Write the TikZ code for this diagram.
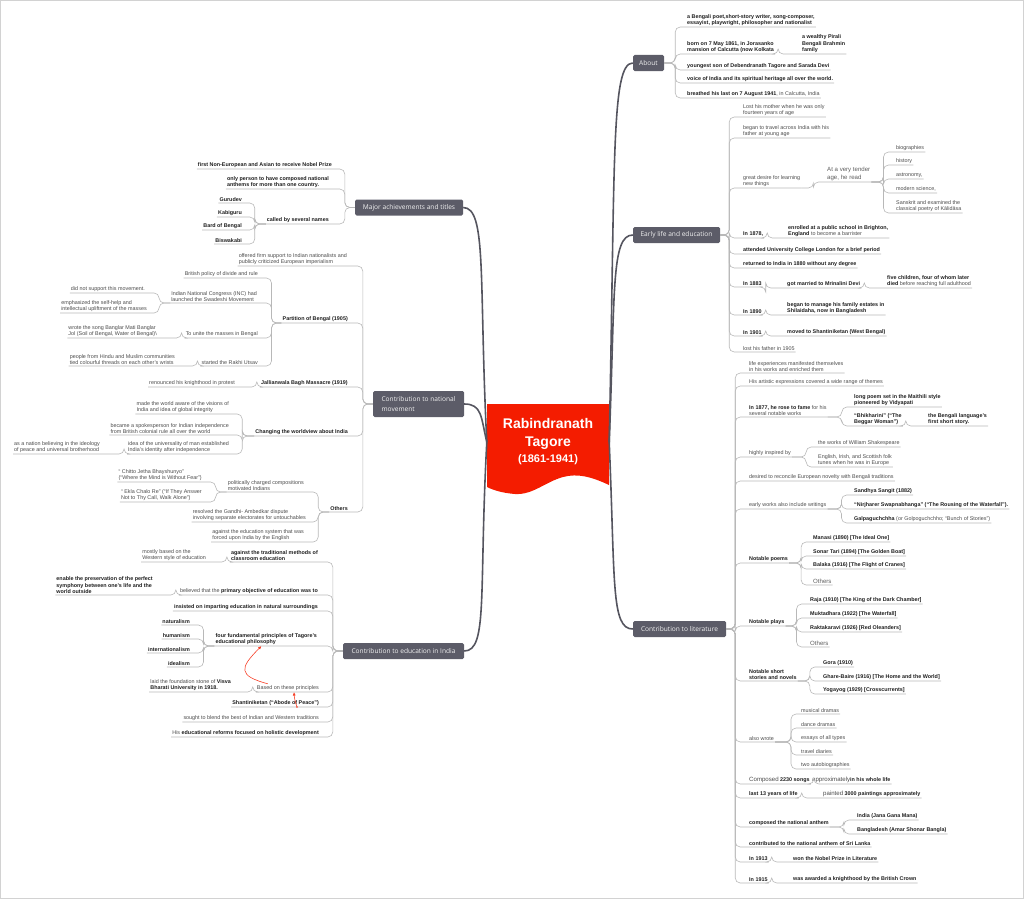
\documentclass[tikz,border=0pt]{standalone}
\usepackage{fontspec}
\setmainfont{Liberation Sans}
\newfontfamily\boxfont{Open Sans}
\usetikzlibrary{arrows.meta}
\definecolor{boxgray}{HTML}{5C5C68}
\definecolor{trunkgray}{HTML}{55555F}
\definecolor{linkgray}{HTML}{B8B8B8}
\definecolor{ink}{HTML}{1E1E1E}
\definecolor{txtgray}{HTML}{4A4A4A}
\definecolor{rootred}{HTML}{F41C00}
\def\fs{\fontsize{5.4}{6.2}\selectfont}
\def\fl{\fontsize{6.1}{8}\selectfont}
\def\bb#1{{\bfseries\color{ink}#1}}
\tikzset{
  lf/.style={font=\fs, text=txtgray, inner xsep=1pt, inner ysep=1.4pt, align=left},
  lg/.style={lf, font=\fl, text=txtgray!90},
  bl/.style={lf, font=\fs\bfseries, text=ink},
  rs/.style={anchor=south west},
  ls/.style={anchor=south east},
  box/.style={fill=boxgray, rounded corners=1.5pt, text=white!94!black,
    font=\boxfont\fontsize{6.6}{10}\selectfont, minimum height=16pt, inner xsep=4pt, align=left},
  link/.style={draw=linkgray, line width=0.6pt, rounded corners=5pt},
  trunk/.style={draw=trunkgray, line width=1.6pt},
  redarr/.style={draw=rootred!85, line width=0.6pt, -{LaTeX[length=3.5pt,width=3pt]}}
}
\begin{document}
\begin{tikzpicture}[x=1pt,y=-1pt]
\useasboundingbox (0,0) rectangle (1024,899);
\draw[gray!35, line width=0.8pt] (0.5,0.5) rectangle (1023.5,898.5);

% root
\fill[rootred] (487,404) -- (609,404) -- (609,485) .. controls (592,477) and (578,473) .. (563,477)
  .. controls (545,482) and (533,495) .. (515,494) .. controls (502,493) and (493,490) .. (487,487) -- cycle;
\node[minimum width=122pt, minimum height=80pt, text=white, align=center,
  font=\bfseries\fontsize{14}{18}\selectfont] (root) at (548,442)
  {Rabindranath\\Tagore\\[-2pt]{\fontsize{11}{12}\selectfont (1861-1941)}};

% main branches
\node[box, minimum width=31pt] (ab) at (648.5,63) {About};
\node[box, minimum width=87pt] (el) at (676.5,235) {Early life and education};
\node[box, minimum width=93pt] (lt) at (679.5,629) {Contribution to literature};
\node[box, minimum width=108pt] (ma) at (409,207.5) {Major achievements and titles};
\node[box, minimum width=91pt, minimum height=26pt] (nm) at (418.5,404) {Contribution to national\\movement};
\node[box, minimum width=121pt] (ed) at (403.5,651) {Contribution to education in India};

\draw[trunk] (root.west) .. controls +(-8,-160) and +(24,0) .. (ma.east);
\draw[trunk] (root.west) .. controls +(-6,-25) and +(18,0) .. (nm.east);
\draw[trunk] (root.west) .. controls +(-8,150) and +(24,0) .. (ed.east);
\draw[trunk] (root.east) .. controls +(6,-280) and +(-22,0) .. (ab.west);
\draw[trunk] (root.east) .. controls +(6,-150) and +(-22,0) .. (el.west);
\draw[trunk] (root.east) .. controls +(6,140) and +(-22,0) .. (lt.west);

% About
\node[bl,rs] (ab1) at (686,27) {a Bengali poet,short-story writer, song-composer,\\essayist, playwright, philosopher and nationalist};
\node[bl,rs] (ab2) at (686,54) {born on 7 May 1861, in Jorasanko\\mansion of Calcutta (now Kolkata};
\node[bl,rs] (ab2a) at (801,54) {a wealthy Pirali\\Bengali Brahmin\\family};
\node[bl,rs] (ab3) at (686,70) {youngest son of Debendranath Tagore and Sarada Devi};
\node[bl,rs] (ab4) at (686,83) {voice of India and its spiritual heritage all over the world.};
\node[lf,rs] (ab5) at (686,98) {\bb{breathed his last on 7 August 1941}, in Calcutta, India};
\foreach \k in {ab1,ab2,ab3,ab4,ab5} \draw[link] (ab.east) -- ++(11,0) |- (\k.south east);
\draw[link] (ab2.south east) -- ++(3,0) |- (ab2a.south east);

% Early life and education
\node[lf,rs] (el1) at (742,117) {Lost his mother when he was only\\fourteen years of age};
\node[lf,rs] (el2) at (742,138) {began to travel across India with his\\father at young age};
\node[lf,rs] (el3) at (742,188) {great desire for learning\\new things};
\node[lg,rs] (el3a) at (826,182) {At a very tender\\age, he read};
\node[lf,rs] (el3a1) at (895,152) {biographies};
\node[lf,rs] (el3a2) at (895,165) {history};
\node[lf,rs] (el3a3) at (895,179) {astronomy,};
\node[lf,rs] (el3a4) at (895,193) {modern science,};
\node[lf,rs] (el3a5) at (895,213) {Sanskrit and examined the\\classical poetry of Kālidāsa};
\node[bl,rs] (el4) at (742,238) {In 1878,};
\node[lf,rs] (el4a) at (787,238) {\bb{enrolled at a public school in Brighton,}\\\bb{England} to become a barrister};
\node[bl,rs] (el5) at (742,254) {attended University College London for a brief period};
\node[bl,rs] (el6) at (742,268) {returned to India in 1880 without any degree};
\node[bl,rs] (el7) at (742,287) {In 1883};
\node[bl,rs] (el7a) at (786,288) {got married to Mrinalini Devi};
\node[lf,rs] (el7b) at (886,288) {\bb{five children, four of whom later}\\\bb{died} before reaching full adulthood};
\node[bl,rs] (el8) at (742,315) {In 1890};
\node[bl,rs] (el8a) at (786,315) {began to manage his family estates in\\Shilaidaha, now in Bangladesh};
\node[bl,rs] (el9) at (742,336) {In 1901};
\node[bl,rs] (el9a) at (786,336) {moved to Shantiniketan (West Bengal)};
\node[lf,rs] (el10) at (742,352) {lost his father in 1905};
\foreach \k in {el1,el2,el3,el4,el5,el6,el7,el8,el9,el10} \draw[link] (el.east) -- ++(9,0) |- (\k.south east);
\draw[link] (el3.south east) -- ++(12,0) |- (el3a.south east);
\foreach \k in {el3a1,el3a2,el3a3,el3a4,el3a5} \draw[link] (el3a.south east) -- ++(12,0) |- (\k.south east);
\foreach \p/\k in {el4/el4a, el7/el7a, el7a/el7b, el8/el8a, el9/el9a} \draw[link] (\p.south east) -- ++(3,0) |- (\k.south east);

% Contribution to literature
\node[lf,rs] (lt1) at (748,373) {life experiences manifested themselves\\in his works and enriched them};
\node[lf,rs] (lt2) at (748,386) {His artistic expressions covered a wide range of themes};
\node[lf,rs] (lt3) at (748,417) {\bb{In 1877, he rose to fame} for his\\several notable works};
\node[bl,rs] (lt3a) at (853,407) {long poem set in the Maithili style\\pioneered by Vidyapati};
\node[bl,rs] (lt3b) at (853,426) {“Bhikharini” (“The\\Beggar Woman”)};
\node[bl,rs] (lt3b1) at (927,426) {the Bengali language’s\\first short story.};
\node[lf,rs] (lt4) at (748,457) {highly inspired by};
\node[lf,rs] (lt4a) at (817,447) {the works of William Shakespeare};
\node[lf,rs] (lt4b) at (817,467) {English, Irish, and Scottish folk\\tunes when he was in Europe};
\node[lf,rs] (lt5) at (748,481) {desired to reconcile European novelty with Bengali traditions};
\node[lf,rs] (lt6) at (748,509) {early works also include writings};
\node[bl,rs] (lt6a) at (853,495) {Sandhya Sangit (1882)};
\node[bl,rs] (lt6b) at (853,509) {“Nirjharer Swapnabhanga” (“The Rousing of the Waterfall”).};
\node[lf,rs] (lt6c) at (853,523) {\bb{Galpaguchchha} (or Golpoguchchho; “Bunch of Stories”)};
\node[bl,rs] (lt7) at (748,563) {Notable poems};
\node[bl,rs] (lt7a) at (812,542) {Manasi (1890) [The Ideal One]};
\node[bl,rs] (lt7b) at (812,556) {Sonar Tari (1894) [The Golden Boat]};
\node[bl,rs] (lt7c) at (812,569) {Balaka (1916) [The Flight of Cranes]};
\node[lg,rs] (lt7d) at (812,585) {Others};
\node[bl,rs] (lt8) at (748,626) {Notable plays};
\node[bl,rs] (lt8a) at (809,604) {Raja (1910) [The King of the Dark Chamber]};
\node[bl,rs] (lt8b) at (809,618) {Muktadhara (1922) [The Waterfall]};
\node[bl,rs] (lt8c) at (809,632) {Raktakaravi (1926) [Red Oleanders]};
\node[lg,rs] (lt8d) at (809,647) {Others};
\node[bl,rs] (lt9) at (748,681) {Notable short\\stories and novels};
\node[bl,rs] (lt9a) at (822,667) {Gora (1910)};
\node[bl,rs] (lt9b) at (822,681) {Ghare-Baire (1916) [The Home and the World]};
\node[bl,rs] (lt9c) at (822,694) {Yogayog (1929) [Crosscurrents]};
\node[lf,rs] (lt10) at (748,742) {also wrote};
\node[lf,rs] (lt10a) at (800,714) {musical dramas};
\node[lf,rs] (lt10b) at (800,728) {dance dramas};
\node[lf,rs] (lt10c) at (800,742) {essays of all types};
\node[lf,rs] (lt10d) at (800,755) {travel diaries};
\node[lf,rs] (lt10e) at (800,769) {two autobiographies};
\node[lf,rs] (lt11) at (748,784) {{\fl Composed} \bb{2230 songs}};
\node[lf,rs] (lt11a) at (811,784) {{\fl approximately}\bb{in his whole life}};
\node[bl,rs] (lt12) at (748,798) {last 13 years of life};
\node[lf,rs] (lt12a) at (822,798) {{\fl painted} \bb{3000 paintings approximately}};
\node[bl,rs] (lt13) at (748,827) {composed the national anthem};
\node[bl,rs] (lt13a) at (856,820) {India (Jana Gana Mana)};
\node[bl,rs] (lt13b) at (856,834) {Bangladesh (Amar Shonar Bangla)};
\node[bl,rs] (lt14) at (748,847) {contributed to the national anthem of Sri Lanka};
\node[bl,rs] (lt15) at (748,862) {In 1913};
\node[bl,rs] (lt15a) at (792,862) {won the Nobel Prize in Literature};
\node[bl,rs] (lt16) at (748,883) {In 1915};
\node[bl,rs] (lt16a) at (792,883) {was awarded a knighthood by the British Crown};
\foreach \k in {lt1,lt2,lt3,lt4,lt5,lt6,lt7,lt8,lt9,lt10,lt11,lt12,lt13,lt14,lt15,lt16}
  \draw[link] (lt.east) -- ++(9,0) |- (\k.south east);
\foreach \k in {lt3a,lt3b} \draw[link] (lt3.south east) -- ++(14,0) |- (\k.south east);
\foreach \k in {lt4a,lt4b} \draw[link] (lt4.south east) -- ++(14,0) |- (\k.south east);
\foreach \k in {lt6a,lt6b,lt6c} \draw[link] (lt6.south east) -- ++(14,0) |- (\k.south east);
\foreach \k in {lt7a,lt7b,lt7c,lt7d} \draw[link] (lt7.south east) -- ++(12,0) |- (\k.south east);
\foreach \k in {lt8a,lt8b,lt8c,lt8d} \draw[link] (lt8.south east) -- ++(11,0) |- (\k.south east);
\foreach \k in {lt9a,lt9b,lt9c} \draw[link] (lt9.south east) -- ++(12,0) |- (\k.south east);
\foreach \k in {lt10a,lt10b,lt10c,lt10d,lt10e} \draw[link] (lt10.south east) -- ++(16,0) |- (\k.south east);
\foreach \k in {lt13a,lt13b} \draw[link] (lt13.south east) -- ++(14,0) |- (\k.south east);
\foreach \p/\k in {lt3b/lt3b1, lt11/lt11a, lt12/lt12a, lt15/lt15a, lt16/lt16a} \draw[link] (\p.south east) -- ++(3,0) |- (\k.south east);

% Major achievements and titles
\node[bl,ls] (ma1) at (333,169) {first Non-European and Asian to receive Nobel Prize};
\node[bl,ls] (ma2) at (330,189) {only person to have composed national\\anthems for more than one country.};
\node[bl,ls] (ma3) at (330,224) {called by several names};
\node[bl,ls] (ma3a) at (243,203) {Gurudev};
\node[bl,ls] (ma3b) at (243,217) {Kabiguru};
\node[bl,ls] (ma3c) at (243,230) {Bard of Bengal};
\node[bl,ls] (ma3d) at (243,244) {Biswakabi};
\foreach \k in {ma1,ma2,ma3} \draw[link] (ma.west) -- ++(-10,0) |- (\k.south west);
\foreach \k in {ma3a,ma3b,ma3c,ma3d} \draw[link] (ma3.south west) -- ++(-11,0) |- (\k.south west);

% Contribution to national movement
\node[lf,ls] (nm1) at (348,266) {offered firm support to Indian nationalists and\\publicly criticized European imperialism};
\node[bl,ls] (nm2) at (349,323) {Partition of Bengal (1905)};
\node[lf,ls] (nm2a) at (259,278) {British policy of divide and rule};
\node[lf,ls] (nm2b) at (258,303) {Indian National Congress (INC) had\\launched the Swadeshi Movement};
\node[lf,ls] (nm2b1) at (146,293) {did not support this movement.};
\node[lf,ls] (nm2b2) at (148,313) {emphasized the self-help and\\intellectual upliftment of the masses};
\node[lf,ls] (nm2c) at (259,338) {To unite the masses in Bengal};
\node[lf,ls] (nm2c1) at (158,338) {wrote the song Banglar Mati Banglar\\Jol (Soil of Bengal, Water of Bengal)\textbackslash};
\node[lf,ls] (nm2d) at (259,366) {started the Rakhi Utsav};
\node[lf,ls] (nm2d1) at (176,366) {people from Hindu and Muslim communities\\tied colourful threads on each other’s wrists};
\node[bl,ls] (nm3) at (349,387) {Jallianwala Bagh Massacre (1919)};
\node[lf,ls] (nm3a) at (236,387) {renounced his knighthood in protest};
\node[bl,ls] (nm4) at (349,436) {Changing the worldview about India};
\node[lf,ls] (nm4a) at (230,414) {made the world aware of the visions of\\India and idea of global integrity};
\node[lf,ls] (nm4b) at (230,435) {became a spokesperson for Indian independence\\from British colonial rule all over the world};
\node[lf,ls] (nm4c) at (230,454) {idea of the universality of man established\\India’s identity after independence};
\node[lf,ls] (nm4c1) at (101,454) {as a nation believing in the ideology\\of peace and universal brotherhood};
\node[bl,ls] (nm5) at (349,512) {Others};
\node[lf,ls] (nm5a) at (305,492) {politically charged compositions\\motivated Indians};
\node[lf,ls] (nm5a1) at (203,482) {“ Chitto Jetha Bhayshunyo”\\(“Where the Mind is Without Fear”)};
\node[lf,ls] (nm5a2) at (203,502) {“ Ekla Chalo Re” (“If They Answer\\Not to Thy Call, Walk Alone”)};
\node[lf,ls] (nm5b) at (307,522) {resolved the Gandhi- Ambedkar dispute\\involving separate electorates for untouchables};
\node[lf,ls] (nm5c) at (305,542) {against the education system that was\\forced upon India by the English};
\foreach \k in {nm1,nm2,nm3,nm4,nm5} \draw[link] (nm.west) -- ++(-10,0) |- (\k.south west);
\foreach \k in {nm2a,nm2b,nm2c,nm2d} \draw[link] (nm2.south west) -- ++(-10,0) |- (\k.south west);
\foreach \k in {nm2b1,nm2b2} \draw[link] (nm2b.south west) -- ++(-11,0) |- (\k.south west);
\foreach \k in {nm4a,nm4b,nm4c} \draw[link] (nm4.south west) -- ++(-12,0) |- (\k.south west);
\foreach \k in {nm5a,nm5b,nm5c} \draw[link] (nm5.south west) -- ++(-11,0) |- (\k.south west);
\foreach \k in {nm5a1,nm5a2} \draw[link] (nm5a.south west) -- ++(-11,0) |- (\k.south west);
\foreach \p/\k in {nm2c/nm2c1, nm2d/nm2d1, nm3/nm3a, nm4c/nm4c1} \draw[link] (\p.south west) -- ++(-3,0) |- (\k.south west);

% Contribution to education in India
\node[bl,ls] (ed1) at (319,562) {against the traditional methods of\\classroom education};
\node[lf,ls] (ed1a) at (207,562) {mostly based on the\\Western style of education};
\node[lf,ls] (ed2) at (319,595) {believed that the \bb{primary objective of education was to}};
\node[bl,ls] (ed2a) at (154,595) {enable the preservation of the perfect\\symphony between one’s life and the\\world outside};
\node[bl,ls] (ed3) at (319,611) {insisted on imparting education in natural surroundings};
\node[bl,ls] (ed4) at (318,646) {four fundamental principles of Tagore’s\\educational philosophy};
\node[bl,ls] (ed4a) at (191,625) {naturalism};
\node[bl,ls] (ed4b) at (191,639) {humanism};
\node[bl,ls] (ed4c) at (191,653) {internationalism};
\node[bl,ls] (ed4d) at (191,667) {idealism};
\node[lf,ls] (ed5) at (320,692) {Based on these principles};
\node[lf,ls] (ed5a) at (232,692) {laid the foundation stone of \bb{Visva}\\\bb{Bharati University in 1918.}};
\node[bl,ls] (ed6) at (320,707) {Shantiniketan (“Abode of Peace”)};
\node[lf,ls] (ed7) at (320,722) {sought to blend the best of Indian and Western traditions};
\node[lf,ls] (ed8) at (320,737) {His \bb{educational reforms focused on holistic development}};
\foreach \k in {ed1,ed2,ed3,ed4,ed5,ed6,ed7,ed8} \draw[link] (ed.west) -- ++(-10,0) |- (\k.south west);
\foreach \k in {ed4a,ed4b,ed4c,ed4d} \draw[link] (ed4.south west) -- ++(-11,0) |- (\k.south west);
\foreach \p/\k in {ed1/ed1a, ed2/ed2a, ed5/ed5a} \draw[link] (\p.south west) -- ++(-3,0) |- (\k.south west);
\draw[redarr] ([xshift=12pt]ed5.north west) .. controls +(-30,-8) and +(-22,22) .. ([xshift=47pt]ed4.south west);
\fill[rootred!85] ([xshift=-23pt]ed6.south east) circle (0.9pt);
\draw[redarr] ([xshift=-23pt]ed6.south east) to[bend left=8] ([xshift=-26pt]ed5.south east);
\end{tikzpicture}
\end{document}
